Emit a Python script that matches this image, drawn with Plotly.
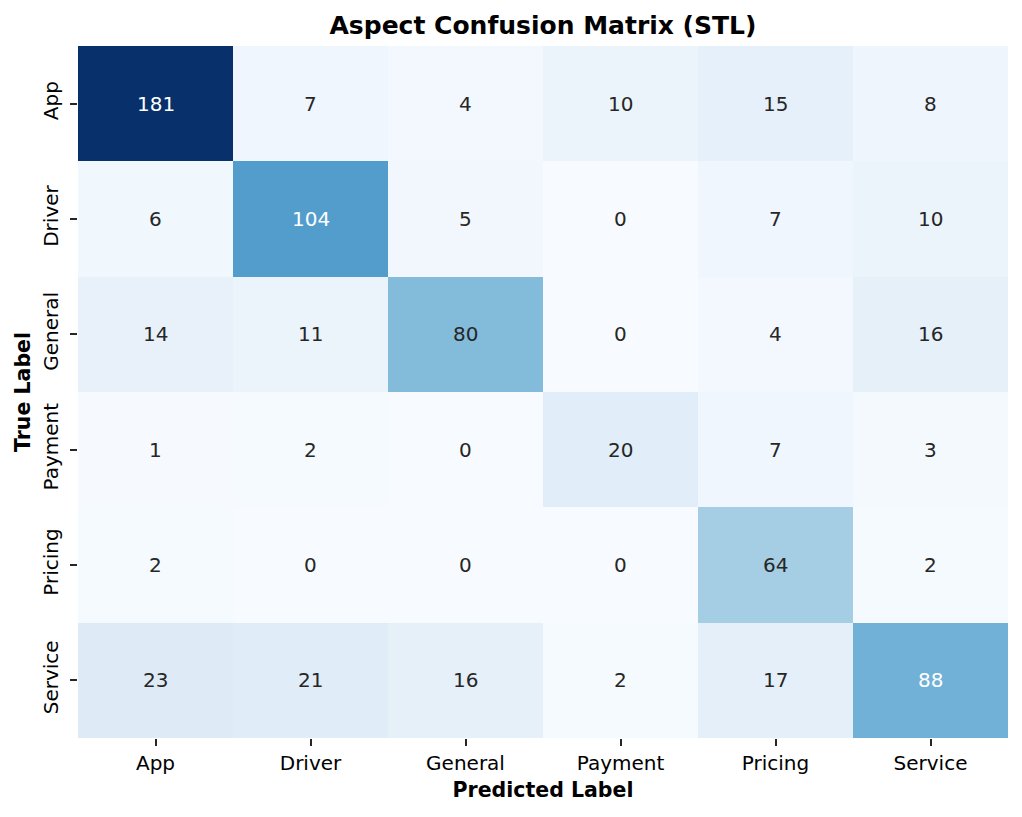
import plotly.graph_objects as go

labels = ["App", "Driver", "General", "Payment", "Pricing", "Service"]
matrix = [
    [181, 7, 4, 10, 15, 8],
    [6, 104, 5, 0, 7, 10],
    [14, 11, 80, 0, 4, 16],
    [1, 2, 0, 20, 7, 3],
    [2, 0, 0, 0, 64, 2],
    [23, 21, 16, 2, 17, 88],
]

blues = [
    [0.0, "#f7fbff"], [0.125, "#deebf7"], [0.25, "#c6dbef"], [0.375, "#9ecae1"],
    [0.5, "#6baed6"], [0.625, "#4292c6"], [0.75, "#2171b5"], [0.875, "#08519c"],
    [1.0, "#08306b"],
]

def hex2rgb(h):
    h = h.lstrip("#")
    return [int(h[i:i + 2], 16) / 255 for i in (0, 2, 4)]

def interp(t):
    for (a, ca), (b, cb) in zip(blues[:-1], blues[1:]):
        if a <= t <= b:
            f = (t - a) / (b - a) if b > a else 0
            c1, c2 = hex2rgb(ca), hex2rgb(cb)
            return [c1[i] + f * (c2[i] - c1[i]) for i in range(3)]
    return hex2rgb(blues[-1][1])

def lum(rgb):
    out = []
    for c in rgb:
        out.append(c / 12.92 if c <= 0.03928 else ((c + 0.055) / 1.055) ** 2.4)
    return 0.2126 * out[0] + 0.7152 * out[1] + 0.0722 * out[2]

zmax = max(max(r) for r in matrix)
zmin = min(min(r) for r in matrix)

fig = go.Figure(go.Heatmap(
    z=matrix, x=labels, y=labels, colorscale=blues, zmin=zmin, zmax=zmax,
    showscale=False, xgap=0, ygap=0, hoverinfo="skip",
))

for i, row in enumerate(matrix):
    for j, v in enumerate(row):
        t = (v - zmin) / (zmax - zmin)
        col = "#262626" if lum(interp(t)) > 0.408 else "white"
        fig.add_annotation(x=labels[j], y=labels[i], text=str(v), showarrow=False,
                           font=dict(size=20, color=col, family="DejaVu Sans"))

fig.update_layout(
    width=1022, height=817,
    margin=dict(l=78, r=14, t=46, b=79),
    plot_bgcolor="white", paper_bgcolor="white",
    font=dict(family="DejaVu Sans", color="black"),
    title=dict(text="<b>Aspect Confusion Matrix (STL)</b>", x=(78 + 1008) / 2 / 1022,
               xanchor="center", y=1 - 25 / 817, yanchor="middle",
               font=dict(size=25, color="black")),
)
fig.update_xaxes(
    title=dict(text="<b>Predicted Label</b>", font=dict(size=20.5), standoff=8),
    tickfont=dict(size=20), ticks="outside", ticklen=7, tickwidth=1.6,
    tickcolor="#262626", showgrid=False, zeroline=False, showline=False,
)
fig.update_yaxes(
    title=dict(text="<b>True Label</b>", font=dict(size=20.5), standoff=2),
    tickfont=dict(size=20), ticks="outside", ticklen=7, tickwidth=1.6,
    tickcolor="#262626", tickangle=-90, autorange="reversed", ticklabelstandoff=4,
    showgrid=False, zeroline=False, showline=False,
)

fig.write_html("out.html", config={"displayModeBar": False},
               post_script="document.body.style.margin='0';")
